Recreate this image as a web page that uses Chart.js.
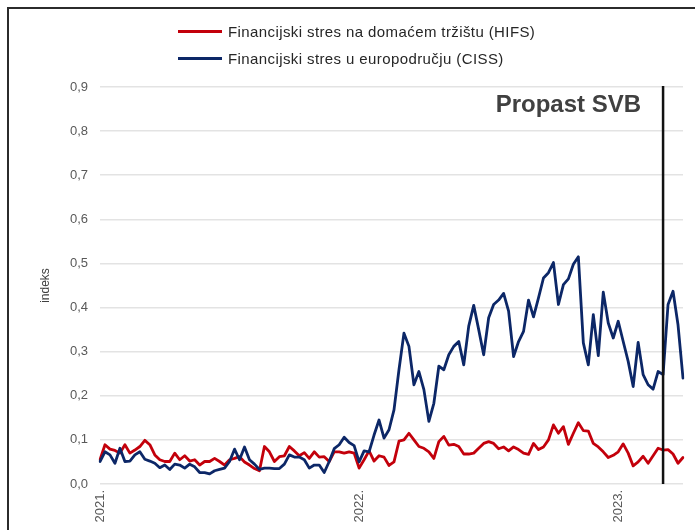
<!DOCTYPE html>
<html>
<head>
<meta charset="utf-8">
<script src="https://cdn.jsdelivr.net/npm/chart.js@4"></script>
<style>
    html, body { margin: 0; padding: 0; background: #fff; overflow: hidden; }
    #wrap { position: relative; width: 695px; height: 530px; }
    #frame {
        position: absolute; left: 7px; top: 7px; width: 700px; height: 540px;
        border-left: 2px solid #2b2b2b; border-top: 2px solid #2b2b2b; pointer-events: none;
    }
    #legend {
        position: absolute; left: 178px; top: 18px;
        font-family: 'Liberation Sans', Arial, sans-serif; font-size: 15px; letter-spacing: 0.4px; color: #262626;
    }
    .item { display: flex; align-items: center; height: 27px; }
    .swatch { width: 44px; height: 0; border-top: 3px solid; margin-right: 6px; }
    canvas { position: absolute; left: 0; top: 0; }
</style>
</head>
<body>
<div id="wrap">
    <canvas id="chart" width="695" height="530"></canvas>
    <div id="legend"></div>
    <div id="frame"></div>
</div>
<script>
// Tjedni podaci, siječanj 2021. - travanj 2023.
const seriesNames = ['Financijski stres na domaćem tržištu (HIFS)', 'Financijski stres u europodručju (CISS)'];
const seriesColors = ['#C3000B', '#0C2767'];

const hifs = [
    0.055, 0.089, 0.079, 0.076, 0.070, 0.089, 0.070, 0.077, 0.085, 0.099,
    0.089, 0.066, 0.055, 0.051, 0.051, 0.070, 0.055, 0.064, 0.052, 0.055,
    0.043, 0.051, 0.051, 0.058, 0.051, 0.043, 0.055, 0.058, 0.062, 0.050,
    0.043, 0.035, 0.030, 0.085, 0.073, 0.051, 0.062, 0.064, 0.085, 0.075,
    0.064, 0.071, 0.058, 0.073, 0.061, 0.062, 0.051, 0.073, 0.073, 0.070,
    0.073, 0.070, 0.036, 0.055, 0.075, 0.052, 0.064, 0.061, 0.042, 0.050,
    0.097, 0.100, 0.115, 0.100, 0.085, 0.081, 0.073, 0.058, 0.096, 0.108,
    0.088, 0.090, 0.085, 0.068, 0.068, 0.070, 0.081, 0.092, 0.096, 0.092,
    0.080, 0.084, 0.075, 0.084, 0.078, 0.070, 0.067, 0.092, 0.078, 0.084,
    0.100, 0.134, 0.115, 0.130, 0.090, 0.115, 0.139, 0.121, 0.120, 0.092,
    0.084, 0.073, 0.060, 0.065, 0.073, 0.091, 0.070, 0.041, 0.050, 0.063,
    0.047, 0.064, 0.081, 0.077, 0.078, 0.068, 0.047, 0.060
];

const ciss = [
    0.051, 0.073, 0.066, 0.047, 0.081, 0.051, 0.052, 0.066, 0.073, 0.056,
    0.052, 0.047, 0.037, 0.043, 0.033, 0.045, 0.043, 0.036, 0.045, 0.039,
    0.026, 0.026, 0.023, 0.030, 0.033, 0.036, 0.051, 0.079, 0.055, 0.084,
    0.055, 0.045, 0.033, 0.036, 0.036, 0.035, 0.035, 0.045, 0.066, 0.061,
    0.061, 0.055, 0.036, 0.043, 0.043, 0.026, 0.051, 0.080, 0.089, 0.106,
    0.094, 0.087, 0.050, 0.075, 0.073, 0.111, 0.145, 0.104, 0.123, 0.168,
    0.259, 0.342, 0.312, 0.225, 0.255, 0.214, 0.142, 0.183, 0.267, 0.259,
    0.293, 0.312, 0.323, 0.270, 0.358, 0.405, 0.350, 0.293, 0.377, 0.407,
    0.417, 0.432, 0.392, 0.289, 0.323, 0.346, 0.417, 0.379, 0.422, 0.467,
    0.479, 0.502, 0.407, 0.452, 0.465, 0.498, 0.515, 0.320, 0.270, 0.384,
    0.291, 0.435, 0.365, 0.331, 0.369, 0.323, 0.278, 0.221, 0.321, 0.248,
    0.225, 0.215, 0.255, 0.248, 0.407, 0.437, 0.361, 0.240
];

// Oznake osi x: samo početak godine
const yearLabels = ['2021.', '2022.', '2023.'];
const yearStartWeek = [0, 52, 104];
const weeks = hifs.map((_, i) => i);

// Propast SVB
const svbWeek = 113;
const svbLabel = 'Propast SVB';

// Legenda (HTML)
const legendEl = document.getElementById('legend');
seriesNames.forEach((name, i) => {
    const row = document.createElement('div');
    row.className = 'item';
    row.innerHTML = '<span class="swatch" style="border-color:' + seriesColors[i] + '"></span><span>' + name + '</span>';
    legendEl.appendChild(row);
});

// Okomita linija i natpis
const svbPlugin = {
    id: 'svbLine',
    afterDatasetsDraw(chart) {
        const { ctx, chartArea, scales } = chart;
        const x = scales.x.getPixelForValue(svbWeek);
        ctx.save();
        ctx.strokeStyle = '#111';
        ctx.lineWidth = 2.5;
        ctx.beginPath();
        ctx.moveTo(x, chartArea.top - 1);
        ctx.lineTo(x, chartArea.bottom);
        ctx.stroke();
        ctx.font = 'bold 24px "Liberation Sans", Arial, sans-serif';
        ctx.fillStyle = '#404040';
        ctx.textAlign = 'right';
        ctx.textBaseline = 'alphabetic';
        ctx.fillText(svbLabel, x - 22, chartArea.top + 25);
        ctx.restore();
    }
};

const tickFont = { family: "'Liberation Sans', Arial, sans-serif", size: 13 };

new Chart(document.getElementById('chart'), {
    type: 'line',
    data: {
        labels: weeks,
        datasets: [
            { label: seriesNames[0], data: hifs, borderColor: seriesColors[0], order: 1 },
            { label: seriesNames[1], data: ciss, borderColor: seriesColors[1], order: 0 }
        ]
    },
    options: {
        responsive: false,
        animation: false,
        layout: { padding: { left: 38, right: 12, top: 87, bottom: 0 } },
        elements: {
            point: { radius: 0 },
            line: { borderWidth: 2.8, tension: 0, borderCapStyle: 'round', borderJoinStyle: 'round' }
        },
        plugins: {
            legend: { display: false },
            tooltip: { enabled: false }
        },
        scales: {
            x: {
                grid: { display: false, drawTicks: false },
                border: { display: false },
                afterFit(scale) {
                    scale.height = 46;
                    scale.paddingLeft = 0;
                    scale.paddingRight = 0;
                },
                ticks: {
                    autoSkip: false,
                    minRotation: 90,
                    maxRotation: 90,
                    padding: 6,
                    color: '#595959',
                    font: tickFont,
                    callback: (value, index) => {
                        const k = yearStartWeek.indexOf(index);
                        return k >= 0 ? yearLabels[k] : '';
                    }
                }
            },
            y: {
                min: 0,
                max: 0.9,
                afterFit(scale) { scale.width = 62; },
                grid: { color: '#e3e3e3', lineWidth: 1.5, drawTicks: false },
                border: { display: false },
                ticks: {
                    stepSize: 0.1,
                    padding: 12,
                    color: '#595959',
                    font: tickFont,
                    callback: v => v.toFixed(1).replace('.', ',')
                },
                title: {
                    display: true,
                    text: 'indeks',
                    color: '#404040',
                    font: { family: "'Liberation Sans', Arial, sans-serif", size: 12 },
                    padding: { top: 0, bottom: 4 }
                }
            }
        }
    },
    plugins: [svbPlugin]
});
</script>
</body>
</html>
